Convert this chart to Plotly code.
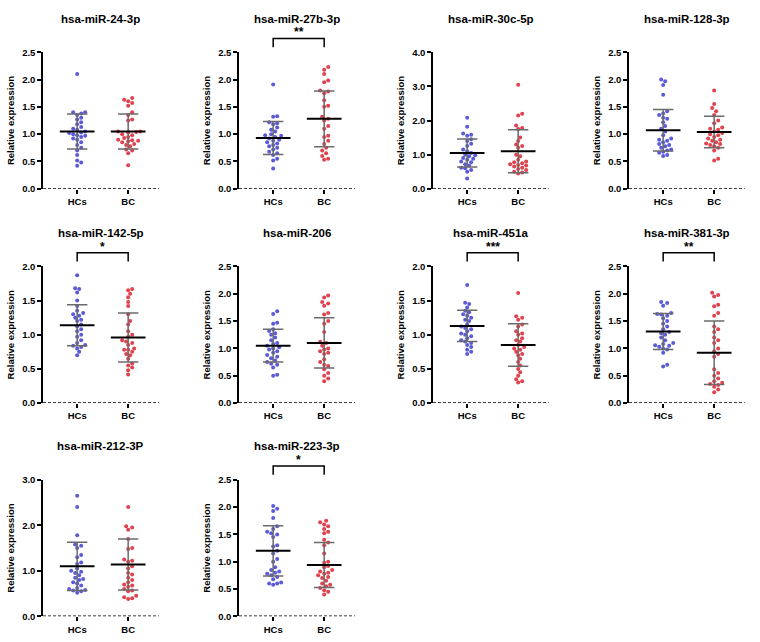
import numpy as np
import plotly.graph_objects as go

# ---- panel titles, axis tops, significance labels ----
titles = ["hsa-miR-24-3p", "hsa-miR-27b-3p", "hsa-miR-30c-5p", "hsa-miR-128-3p",
          "hsa-miR-142-5p", "hsa-miR-206", "hsa-miR-451a", "hsa-miR-381-3p",
          "hsa-miR-212-3P", "hsa-miR-223-3p"]
y_max = [2.5, 2.5, 4.0, 2.5, 2.0, 2.5, 2.0, 2.5, 3.0, 2.5]
y_step = [0.5, 0.5, 1.0, 0.5, 0.5, 0.5, 0.5, 0.5, 1.0, 0.5]
sig = ["", "**", "", "", "*", "", "***", "**", "", "*"]
groups = ["HCs", "BC"]

# ---- mean and SD ----
mean_hc = [1.05, 0.93, 1.05, 1.07, 1.14, 1.05, 1.13, 1.31, 1.10, 1.20]
sd_hc = [0.32, 0.30, 0.41, 0.38, 0.30, 0.30, 0.23, 0.33, 0.53, 0.46]
mean_bc = [1.05, 1.28, 1.10, 1.04, 0.96, 1.10, 0.85, 0.92, 1.14, 0.94]
sd_bc = [0.32, 0.51, 0.63, 0.29, 0.36, 0.46, 0.31, 0.58, 0.56, 0.41]

# ---- individual samples ----
hc_24 = [2.10, 1.40, 1.40, 1.38, 1.35, 1.30, 1.27, 1.22, 1.18, 1.13, 1.10, 1.08, 1.05, 1.03, 1.02,
         1.00, 0.98, 0.97, 0.95, 0.92, 0.90, 0.85, 0.80, 0.75, 0.70, 0.62, 0.52, 0.48, 0.42]
bc_24 = [1.66, 1.63, 1.60, 1.57, 1.52, 1.40, 1.35, 1.27, 1.25, 1.05, 1.05, 1.04, 1.03, 1.00, 0.98,
         0.95, 0.93, 0.90, 0.89, 0.88, 0.87, 0.85, 0.82, 0.80, 0.78, 0.72, 0.70, 0.65, 0.43]
hc_27b = [1.91, 1.33, 1.32, 1.22, 1.20, 1.18, 1.12, 1.08, 1.05, 1.00, 0.98, 0.97, 0.95, 0.92, 0.90,
          0.88, 0.85, 0.83, 0.80, 0.78, 0.75, 0.72, 0.68, 0.65, 0.62, 0.55, 0.52, 0.37]
bc_27b = [2.23, 2.18, 2.10, 1.98, 1.95, 1.80, 1.78, 1.75, 1.62, 1.52, 1.50, 1.32, 1.28, 1.25, 1.15,
          1.10, 0.97, 0.95, 0.88, 0.82, 0.75, 0.70, 0.65, 0.60, 0.55, 0.53]
hc_30c = [2.08, 1.82, 1.62, 1.58, 1.55, 1.45, 1.40, 1.32, 1.25, 1.15, 1.10, 1.05, 1.00, 0.98, 0.95,
          0.90, 0.88, 0.85, 0.80, 0.78, 0.72, 0.68, 0.62, 0.60, 0.55, 0.50, 0.30]
bc_30c = [3.05, 2.20, 2.15, 1.85, 1.78, 1.75, 1.50, 1.40, 1.30, 1.25, 1.20, 1.00, 0.95, 0.85, 0.80,
          0.78, 0.75, 0.72, 0.70, 0.68, 0.65, 0.62, 0.58, 0.55, 0.50, 0.48, 0.45]
hc_128 = [2.00, 1.97, 1.90, 1.72, 1.42, 1.38, 1.35, 1.30, 1.28, 1.22, 1.15, 1.10, 1.05, 0.98, 0.92,
          0.90, 0.88, 0.85, 0.82, 0.80, 0.78, 0.75, 0.72, 0.70, 0.68, 0.66, 0.62, 0.60]
bc_128 = [1.80, 1.55, 1.48, 1.42, 1.35, 1.25, 1.20, 1.12, 1.10, 1.08, 1.05, 1.02, 1.00, 0.98, 0.95,
          0.92, 0.90, 0.88, 0.85, 0.83, 0.82, 0.80, 0.78, 0.75, 0.70, 0.55, 0.52]
hc_142 = [1.87, 1.68, 1.67, 1.62, 1.50, 1.42, 1.35, 1.32, 1.30, 1.28, 1.25, 1.22, 1.20, 1.15, 1.12,
          1.08, 1.05, 1.00, 0.97, 0.92, 0.88, 0.85, 0.84, 0.82, 0.80, 0.75, 0.70]
bc_142 = [1.67, 1.65, 1.60, 1.55, 1.48, 1.42, 1.30, 1.20, 1.15, 1.05, 1.00, 0.97, 0.92, 0.90, 0.88,
          0.85, 0.80, 0.78, 0.78, 0.75, 0.72, 0.70, 0.65, 0.58, 0.55, 0.52, 0.48, 0.42]
hc_206 = [1.68, 1.63, 1.47, 1.45, 1.35, 1.32, 1.28, 1.25, 1.20, 1.15, 1.10, 1.08, 1.05, 1.02, 1.00,
          0.98, 0.95, 0.92, 0.88, 0.85, 0.82, 0.78, 0.75, 0.72, 0.70, 0.65, 0.52, 0.50]
bc_206 = [1.97, 1.93, 1.85, 1.82, 1.78, 1.65, 1.62, 1.50, 1.45, 1.30, 1.12, 1.10, 1.05, 1.00, 0.98,
          0.95, 0.92, 0.90, 0.80, 0.75, 0.70, 0.68, 0.62, 0.55, 0.50, 0.45, 0.40]
hc_451 = [1.73, 1.47, 1.45, 1.40, 1.35, 1.33, 1.30, 1.28, 1.25, 1.22, 1.20, 1.15, 1.12, 1.10, 1.08,
          1.05, 1.02, 1.00, 0.98, 0.95, 0.92, 0.90, 0.88, 0.85, 0.82, 0.78, 0.75, 0.72]
bc_451 = [1.61, 1.27, 1.25, 1.22, 1.15, 1.12, 1.05, 1.02, 1.00, 0.95, 0.92, 0.90, 0.85, 0.82, 0.80,
          0.78, 0.75, 0.72, 0.70, 0.65, 0.60, 0.55, 0.50, 0.45, 0.40, 0.35, 0.32, 0.30]
hc_381 = [1.85, 1.83, 1.78, 1.65, 1.63, 1.62, 1.60, 1.55, 1.50, 1.45, 1.40, 1.35, 1.30, 1.28, 1.25,
          1.20, 1.15, 1.10, 1.08, 1.06, 1.05, 1.03, 1.00, 0.98, 0.92, 0.70, 0.67]
bc_381 = [2.02, 1.98, 1.95, 1.80, 1.77, 1.65, 1.60, 1.40, 1.35, 1.30, 1.20, 1.15, 1.10, 1.00, 0.95,
          0.90, 0.85, 0.62, 0.55, 0.50, 0.45, 0.40, 0.37, 0.35, 0.33, 0.30, 0.25, 0.20]
hc_212 = [2.65, 2.40, 1.78, 1.58, 1.55, 1.50, 1.35, 1.30, 1.18, 1.15, 1.05, 1.00, 0.98, 0.95, 0.90,
          0.85, 0.82, 0.80, 0.75, 0.72, 0.68, 0.62, 0.60, 0.58, 0.57, 0.55, 0.52]
bc_212 = [2.40, 1.98, 1.95, 1.90, 1.70, 1.50, 1.48, 1.25, 1.22, 1.20, 1.10, 1.05, 0.95, 0.92, 0.85,
          0.80, 0.75, 0.70, 0.68, 0.65, 0.60, 0.57, 0.55, 0.45, 0.42, 0.40, 0.38]
hc_223 = [2.02, 1.97, 1.93, 1.80, 1.65, 1.60, 1.55, 1.52, 1.50, 1.45, 1.30, 1.28, 1.20, 1.15, 1.05,
          1.00, 0.90, 0.85, 0.82, 0.80, 0.78, 0.75, 0.72, 0.68, 0.62, 0.60, 0.60, 0.58]
bc_223 = [1.75, 1.72, 1.68, 1.65, 1.60, 1.55, 1.52, 1.40, 1.35, 1.30, 1.15, 1.00, 0.98, 0.92, 0.90,
          0.85, 0.82, 0.80, 0.78, 0.75, 0.72, 0.70, 0.65, 0.60, 0.58, 0.55, 0.52, 0.48, 0.45, 0.40]

hc_sets = [hc_24, hc_27b, hc_30c, hc_128, hc_142, hc_206, hc_451, hc_381, hc_212, hc_223]
bc_sets = [bc_24, bc_27b, bc_30c, bc_128, bc_142, bc_206, bc_451, bc_381, bc_212, bc_223]

# ---- page geometry (pixels) ----
W, H = 760, 642
col_left = [43, 239, 433, 629]
row_zero = [186, 404, 621]
panel_h = 139
x_lo, x_hi = -0.67, 1.6
px_per_cat = 51
colors = ["#5b5bd8", "#e0424e"]


def swarm(vals, py, d=4.0):
    """Simple beeswarm: x offsets (in category units) so dots don't overlap."""
    order = np.argsort(vals)
    placed = []
    offs = np.zeros(len(vals))
    steps = [0]
    for k in range(1, 12):
        steps += [k * d * 0.5, -k * d * 0.5]
    for i in order:
        y = vals[i] * py
        for s in steps:
            if all((s - xp) ** 2 + (y - yp) ** 2 >= d * d for xp, yp in placed):
                break
        placed.append((s, y))
        offs[i] = s / px_per_cat
    return offs


fig = go.Figure()
layout = dict(width=W, height=H, margin=dict(l=0, r=0, t=0, b=0),
              paper_bgcolor="white", plot_bgcolor="white", showlegend=False,
              font=dict(family="Liberation Sans, Arial", color="black"))
shapes, annos = [], []
bold = dict(family="Liberation Sans, Arial", color="black", weight=700)

for i, title in enumerate(titles):
    r, c = divmod(i, 4)
    n = "" if i == 0 else str(i + 1)
    xa, ya = "x" + n, "y" + n
    left = col_left[c]
    width = (x_hi - x_lo) * px_per_cat
    top = row_zero[r] - panel_h
    xdom = [left / W, (left + width) / W]
    ydom = [1 - row_zero[r] / H, 1 - top / H]
    py = panel_h / y_max[i]

    for g, vals in enumerate([hc_sets[i], bc_sets[i]]):
        v = np.array(vals)
        fig.add_trace(go.Scatter(x=g + swarm(v, py), y=v, mode="markers", xaxis=xa, yaxis=ya,
                                 marker=dict(size=4, color=colors[g], line=dict(width=0))))
        m = [mean_hc, mean_bc][g][i]
        s = [sd_hc, sd_bc][g][i]
        fig.add_trace(go.Scatter(
            x=[g, g, None, g - 0.2, g + 0.2, None, g - 0.2, g + 0.2],
            y=[m - s, m + s, None, m + s, m + s, None, m - s, m - s],
            mode="lines", xaxis=xa, yaxis=ya, line=dict(color="#6a6a6a", width=1.5)))
        fig.add_trace(go.Scatter(x=[g - 0.34, g + 0.34], y=[m, m], mode="lines",
                                 xaxis=xa, yaxis=ya, line=dict(color="black", width=2)))

    layout["xaxis" + n] = dict(domain=xdom, range=[x_lo, x_hi], anchor=ya,
                               tickvals=[0, 1], ticktext=groups, ticks="outside", ticklen=4,
                               tickwidth=1.5, tickcolor="black", showline=False,
                               showgrid=False, zeroline=False, tickfont=dict(size=9.5, **bold))
    layout["yaxis" + n] = dict(domain=ydom, range=[0, y_max[i]], anchor=xa,
                               tickvals=list(np.arange(0, y_max[i] + 1e-9, y_step[i])),
                               tickformat=".1f", ticks="outside", ticklen=4, tickwidth=1.5,
                               tickcolor="black", showline=True, linecolor="black", linewidth=1.5,
                               showgrid=False, zeroline=False, tickfont=dict(size=9.5, **bold),
                               title=dict(text="Relative expression", font=dict(size=9.5, **bold),
                                          standoff=6))

    # dashed baseline
    shapes.append(dict(type="line", xref=xa + " domain", yref=ya, x0=0, x1=1, y0=0, y1=0,
                       line=dict(color="black", width=1.5, dash="3px,2px")))
    annos.append(dict(text=title, x=(xdom[0] + xdom[1]) / 2, y=1 - (top - 34) / H,
                      xref="paper", yref="paper", showarrow=False, xanchor="center",
                      yanchor="middle", font=dict(size=11.5, **bold)))
    if sig[i]:
        yb = 1 + 14 / panel_h
        yt = 1 + 5 / panel_h
        shapes.append(dict(type="path", xref=xa, yref=ya + " domain",
                           path=f"M 0,{yt} L 0,{yb} L 1,{yb} L 1,{yt}",
                           line=dict(color="black", width=1.5)))
        annos.append(dict(text=sig[i], x=0.5, y=yb, xref=xa, yref=ya + " domain",
                          showarrow=False, yanchor="bottom", yshift=-3,
                          font=dict(size=12, **bold)))

layout["shapes"] = shapes
layout["annotations"] = annos
fig.update_layout(**layout)
fig.write_html("out.html", config={"displayModeBar": False},
               post_script="document.body.style.margin='0px';")
